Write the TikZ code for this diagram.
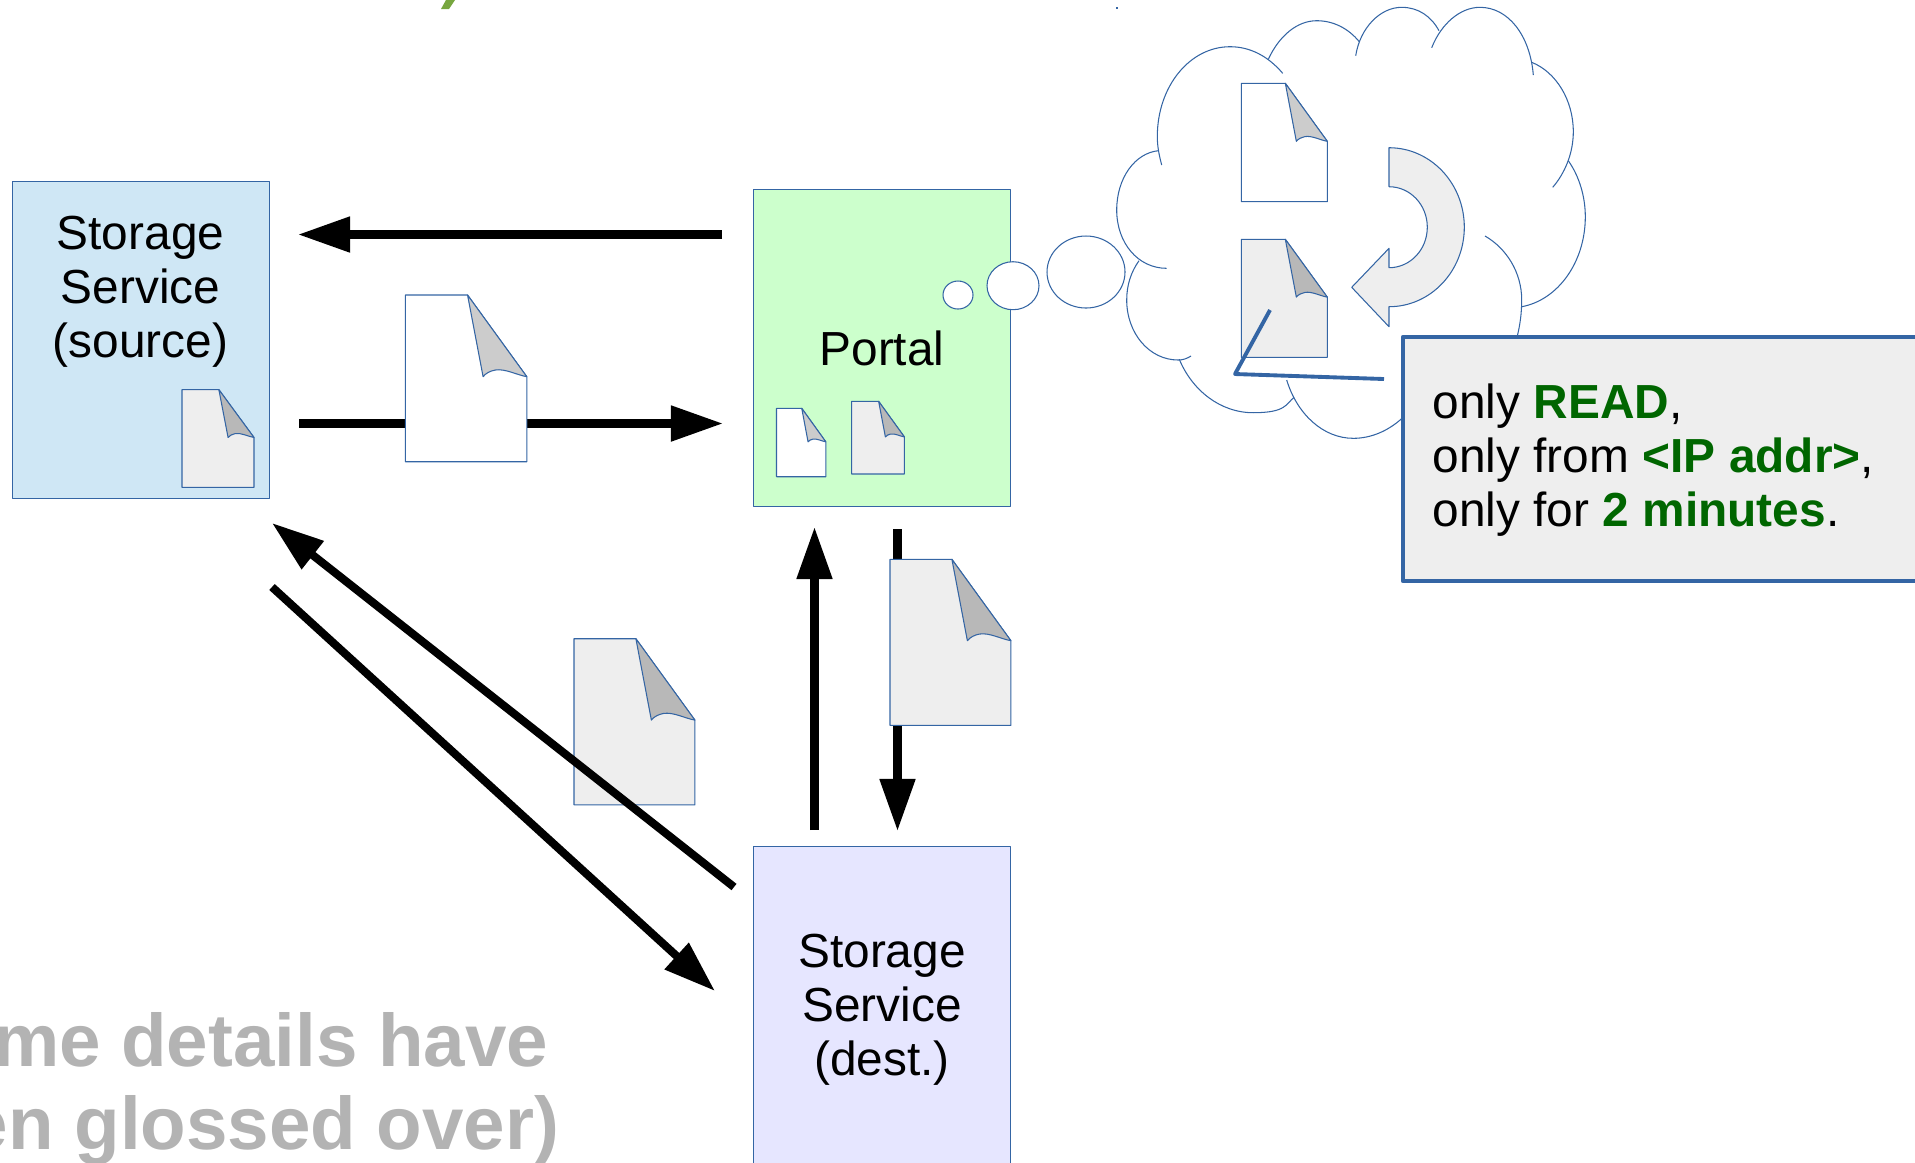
\documentclass[tikz,border=0pt]{standalone}
\usepackage{fontspec}
\setmainfont{Liberation Sans}
\usetikzlibrary{arrows.meta}
\definecolor{lineblue}{HTML}{3465A4}
\definecolor{srcblue}{HTML}{CFE7F5}
\definecolor{portalgreen}{HTML}{CCFFCC}
\definecolor{destblue}{HTML}{E6E6FF}
\definecolor{pagegrey}{HTML}{EEEEEE}
\definecolor{foldlight}{HTML}{CCCCCC}
\definecolor{folddark}{HTML}{B8B8B8}
\definecolor{textgreen}{HTML}{006600}
\definecolor{glossgrey}{HTML}{B3B3B3}
\definecolor{titlegreen}{HTML}{77A63F}
\tikzset{
	hostbox/.style={draw=lineblue,line width=0.3pt,inner sep=0pt,minimum width=2.56cm},
	hostlabel/.style={align=center,font=\fontsize{13.6}{15.36}\selectfont},
	flow/.style={line width=2.3pt,-{Triangle[length=0.52cm,width=0.34cm]}},
	cloudline/.style={draw=lineblue,line width=0.3pt},
	docline/.style={draw=lineblue,line width=0.3pt},
	calloutline/.style={draw=lineblue,line width=1.1pt}
}
\begin{document}
\begin{tikzpicture}[line join=round,x=0.01cm,y=-0.01cm]
	\useasboundingbox (0,0) rectangle (1915,1162);
	\clip (0,0) rectangle (1915,1162);
	\fill[titlegreen] (446,0) -- (455,0) -- (449,9) -- (441,9) -- cycle;
	\fill[lineblue] (1116,7) rectangle (1118,9);

	\node[hostbox,fill=srcblue,minimum height=3.16cm] (source) at (141,340) {};
	\node[hostbox,fill=portalgreen,minimum height=3.16cm] (portal) at (882,348) {};
	\node[hostbox,fill=destblue,minimum height=3.4cm] (dest) at (882,1017) {};
	\node[hostlabel] (sourcelabel) at (140.5,291.5) {Storage\\Service\\(source)};
	\node[hostlabel] (portallabel) at (882,348) {Portal};
	\node[hostlabel] (destlabel) at (882,1010) {Storage\\Service\\(dest.)};

	\coordinate (toprtl) at (722,234.5);
	\coordinate (topsrc) at (298,234.5);
	\coordinate (fromsrc) at (299,423.5);
	\coordinate (inportal) at (723,423.5);
	\coordinate (upstart) at (814.5,830);
	\coordinate (upend) at (814.5,527);
	\coordinate (downstart) at (897.5,529);
	\coordinate (downend) at (897.5,831);
	\coordinate (backstart) at (734,887);
	\coordinate (backend) at (272,523);
	\coordinate (fwdstart) at (272,587);
	\coordinate (fwdend) at (715,991);
	\draw[flow] (toprtl) -- (topsrc);
	\draw[flow] (fromsrc) -- (inportal);
	\draw[flow] (upstart) -- (upend);
	\draw[flow] (downstart) -- (downend);
	\draw[flow] (fwdstart) -- (fwdend);

	\draw[cloudline] (1161.7,165) .. controls (1159,155) and (1157.3,146) .. (1157.3,136.7) .. controls (1157.3,86) and (1190,46.7) .. (1230,46.7) .. controls (1250,46.7) and (1268,56) .. (1282.7,73.3);
	\draw[cloudline] (1268.3,59.3) .. controls (1279,36) and (1297,20.7) .. (1316.7,20.7) .. controls (1333,20.7) and (1348,28) .. (1359.3,41.7);
	\draw[cloudline] (1355.7,55.7) .. controls (1360,28) and (1380,7.3) .. (1401.7,7.3) .. controls (1418,7.3) and (1431,16) .. (1439,30.7);
	\draw[cloudline] (1431.7,47.7) .. controls (1441,24) and (1460,7.3) .. (1480,7.3) .. controls (1508,7.3) and (1530,35) .. (1533.3,75);
	\draw[cloudline] (1531.7,62.3) .. controls (1556,72) and (1573.3,100) .. (1573.3,131.7) .. controls (1573.3,153) and (1565,173) .. (1552.7,187.3);
	\draw[cloudline] (1568.3,160.7) .. controls (1579,176) and (1585.3,196) .. (1585.3,216.7) .. controls (1585.3,262) and (1558,300) .. (1521.7,306.7);
	\draw[cloudline] (1485,236) .. controls (1506,248) and (1521.7,272) .. (1521.7,300) .. controls (1521.7,313) and (1520,325) .. (1517.3,336);
	\draw[cloudline] (1402,418.3) .. controls (1388,431) and (1371,438.3) .. (1353.3,438.3) .. controls (1323,438.3) and (1297,414) .. (1286.7,380);
	\draw[cloudline] (1294,397.3) .. controls (1286,404) and (1286,412.7) .. (1253.3,412.7) .. controls (1220,412.7) and (1192,390) .. (1179.3,359.3);
	\draw[cloudline] (1191,356) .. controls (1187,358.5) and (1183,360) .. (1178.3,360) .. controls (1149,360) and (1126.7,333) .. (1126.7,300) .. controls (1126.7,285) and (1131,272) .. (1139,260.7);
	\draw[cloudline] (1166.7,268.3) .. controls (1138,268.3) and (1116.7,243) .. (1116.7,210) .. controls (1116.7,178) and (1135,153) .. (1158.3,150.7);
	\filldraw[cloudline,fill=white] (958,295) ellipse [x radius=15,y radius=14];
	\filldraw[cloudline,fill=white] (1013,285.7) ellipse [x radius=26,y radius=24];
	\filldraw[cloudline,fill=white] (1086,272) ellipse [x radius=39,y radius=36];

	\foreach \dx/\dy/\dw/\dh/\pfill/\ffill in {405.4/295/121.4/166.7/white/foldlight,182/389.6/72/97.7/pagegrey/folddark,776.5/408.3/49.3/68.4/white/foldlight,851.6/401.3/52.8/72.7/pagegrey/folddark,890/559.3/120.9/166.1/pagegrey/folddark,574/638.7/120.9/166.1/pagegrey/folddark,1241.3/83.3/86/118.4/white/foldlight,1241.3/239.3/86/118/pagegrey/folddark}
	{
		\begin{scope}[shift={(\dx,\dy)},xscale=\dw,yscale=\dh]
			\filldraw[docline,fill=\pfill] (0,0) -- (.512,0) -- (1,.49) -- (1,1) -- (0,1) -- cycle;
			\filldraw[docline,fill=\ffill] (.512,0) -- (1,.49) .. controls (.92,.48) and (.82,.44) .. (.74,.45) .. controls (.7,.455) and (.66,.47) .. (.64,.49) -- cycle;
		\end{scope}
	}
	\filldraw[docline,fill=pagegrey] (1389,147.7) .. controls (1430.6,147.7) and (1464.3,183.3) .. (1464.3,227.2) .. controls (1464.3,271.1) and (1430.6,306.7) .. (1389,306.7) -- (1389,326.7) -- (1351.7,287.3) -- (1389,248.3) -- (1389,267.7) .. controls (1410.2,267.7) and (1427.3,249.6) .. (1427.3,227.2) .. controls (1427.3,204.8) and (1410.2,186.7) .. (1389,186.7) -- cycle;
	\draw[flow] (backstart) -- (backend);

	\node[draw=lineblue,line width=1.2pt,fill=pagegrey,minimum width=5.3cm,minimum height=2.44cm,inner sep=0pt] (note) at (1668,459) {};
	\node[anchor=base west,font=\fontsize{13.6}{15.36}\selectfont,align=left,inner sep=0pt] (notetext) at (1432,526.5) {only \textcolor{textgreen}{\textbf{READ}},\\only from \textcolor{textgreen}{\textbf{<IP addr>}},\\only for \textcolor{textgreen}{\textbf{2 minutes}}.};
	\coordinate (leadin) at (1270,310);
	\coordinate (leadknee) at (1235,374);
	\coordinate (leadout) at (1384,379);
	\draw[calloutline] (leadin) -- (leadknee) -- (leadout);

	\node[anchor=base east,text=glossgrey,font=\fontsize{21.2}{24}\selectfont\bfseries,inner sep=0pt] (glossa) at (549,1066.5) {me details have};
	\node[anchor=base east,text=glossgrey,font=\fontsize{21.2}{24}\selectfont\bfseries,inner sep=0pt] (glossb) at (560,1149.5) {en glossed over)};
\end{tikzpicture}
\end{document}
